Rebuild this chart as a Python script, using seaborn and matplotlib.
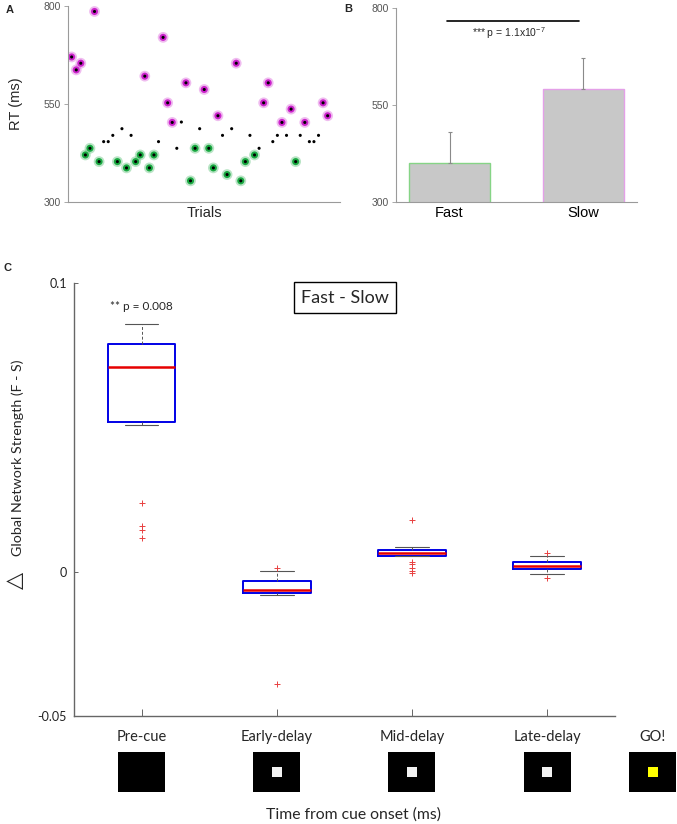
import numpy as np
import pandas as pd
import matplotlib
matplotlib.use("Agg")
import matplotlib.pyplot as plt
import seaborn as sns
from matplotlib.patches import Rectangle
from matplotlib.transforms import blended_transform_factory

# ---------------- data ----------------
# Panel A: RT per trial
trial_rt = [670, 637, 654, 420, 437, 786, 403, 454, 454, 470,
            403, 487, 387, 470, 403, 420, 621, 387, 420, 454,
            720, 553, 503, 437, 504, 604, 354, 437, 487, 587,
            437, 387, 520, 470, 370, 487, 654, 354, 403, 470,
            420, 437, 553, 604, 454, 470, 503, 470, 537, 403,
            470, 503, 454, 454, 470, 553, 520]
trial_group = list("SSSFFSFMMMFMFMFFSFFMSSSMMSFFMSFFSMFMSFFMFMSSMMSMSFMSMMMSS")

# Panel B: mean RT
bar_labels = ["Fast", "Slow"]
bar_means = [400, 592]
bar_err = [80, 80]
ticks_rt = [300, 550, 800]

# Panel C: box statistics
conditions = ["Pre-cue", "Early-delay", "Mid-delay", "Late-delay"]
box_whislo = [0.0507, -0.0080, 0.0056, -0.0008]
box_q1 = [0.0519, -0.0074, 0.0056, 0.0009]
box_med = [0.0708, -0.0063, 0.0065, 0.0020]
box_q3 = [0.0787, -0.0032, 0.0074, 0.0032]
box_whishi = [0.0858, 0.0003, 0.0084, 0.0053]
box_fliers = [[0.0238, 0.0158, 0.0144, 0.0116],
              [0.0014, -0.0390],
              [0.0178, 0.0032, 0.0026, 0.0013, 0.0003, -0.0006],
              [0.0066, -0.0023]]
ticks_c = [-0.05, 0, 0.1]
tick_labels_c = ["-0.05", "0", "0.1"]
stim_labels = ["Pre-cue", "Early-delay", "Mid-delay", "Late-delay", "GO!"]

# ---------------- style ----------------
sns.set_theme(style="white")
plt.rcParams['font.family'] = ['Liberation Sans', 'DejaVu Sans']
plt.rcParams['mathtext.default'] = 'regular'
CFONT = ['Lato', 'DejaVu Sans']

W, H = 677, 824
fig = plt.figure(figsize=(W / 100, H / 100), dpi=100)


def fx(px):
    return px / W


def fy(py):
    return 1 - py / H


axA = fig.add_axes([fx(68), fy(202), (340 - 68) / W, (202 - 6) / H])
axB = fig.add_axes([fx(396), fy(202), (637 - 396) / W, (202 - 8) / H])
axC = fig.add_axes([fx(74), fy(716), (614.7 - 74) / W, (716 - 283) / H])

# ---------------- Panel A ----------------
dfA = pd.DataFrame({"trial": np.arange(len(trial_rt)), "rt": trial_rt,
                    "group": trial_group})
col = dfA[dfA.group != "M"]
pal = {"S": "#cc22cc", "F": "#18a840"}
sns.scatterplot(data=col, x="trial", y="rt", hue="group", palette=pal, s=60,
                alpha=0.3, edgecolor="none", legend=False, ax=axA)
sns.scatterplot(data=col, x="trial", y="rt", hue="group", palette=pal, s=26,
                edgecolor="none", legend=False, ax=axA)
sns.scatterplot(data=dfA, x="trial", y="rt", color="black", s=5,
                edgecolor="none", legend=False, ax=axA)
axA.set_xlim(-0.8, 58.7)
axA.set_ylim(300, 800)
axA.set_yticks(ticks_rt)
axA.set_xticks([])
axA.set_ylabel("RT (ms)", fontsize=10.5)
axA.set_xlabel("Trials", fontsize=10.5)
axA.yaxis.set_label_coords(-0.165, 0.5)
axA.xaxis.set_label_coords(0.5, -0.058)
axA.xaxis.label.set_va("center")

# ---------------- Panel B ----------------
dfB = pd.DataFrame({"cond": bar_labels, "rt": bar_means})
sns.barplot(data=dfB, x="cond", y="rt", color="#c8c8c8", width=0.6,
            errorbar=None, saturation=1, ax=axB)
for p, ec in zip(axB.patches, ["#86d486", "#e4a0e8"]):
    p.set_edgecolor(ec)
    p.set_linewidth(1.0)
axB.errorbar(x=[0, 1], y=bar_means, yerr=[[0, 0], bar_err], fmt="none",
             ecolor="#8a8a8a", elinewidth=0.8, capsize=1.5, capthick=0.8)
axB.set_xlim(-0.4, 1.4)
axB.set_ylim(300, 800)
axB.set_yticks(ticks_rt)
axB.set_xlabel("")
axB.set_ylabel("")
axB.plot([-0.02, 0.97], [767, 767], color="black", lw=1.2, clip_on=False)
axB.text(0.44, 736, "*** p = 1.1x10$^{-7}$", ha="center", va="center",
         fontsize=7.5)
axB.tick_params(axis="x", length=0, labelsize=10.5, labelcolor="black", pad=3)

for ax in (axA, axB):
    sns.despine(ax=ax)
    for s in ("left", "bottom"):
        ax.spines[s].set_color("#9a9a9a")
        ax.spines[s].set_linewidth(0.8)
    ax.tick_params(axis="y", direction="out", length=3, width=0.6,
                   color="#9a9a9a", labelsize=7.5, labelcolor="#555555",
                   left=True, pad=2)

# ---------------- Panel C ----------------
stats = []
for i, c in enumerate(conditions):
    stats.append(dict(label=c, med=box_med[i], q1=box_q1[i], q3=box_q3[i],
                      whislo=box_whislo[i], whishi=box_whishi[i],
                      fliers=box_fliers[i]))
axC.bxp(stats, positions=range(len(conditions)), widths=0.5,
        capwidths=0.25, showfliers=True,
        boxprops=dict(color="#0000e6", linewidth=1.4),
        medianprops=dict(color="#e60000", linewidth=1.8),
        whiskerprops=dict(color="#555555", linewidth=0.7,
                          linestyle=(0, (3, 2))),
        capprops=dict(color="#555555", linewidth=0.8),
        flierprops=dict(marker="+", markeredgecolor="#e84040",
                        markersize=5, markeredgewidth=0.7,
                        linestyle="none"))
axC.set_xlim(-0.5, 3.5)
axC.set_ylim(-0.05, 0.1)
axC.set_yticks(ticks_c)
axC.set_yticklabels(tick_labels_c, fontfamily=CFONT)
axC.set_xticks(range(len(conditions)))
axC.set_xticklabels([])
sns.despine(ax=axC)
for s in ("left", "bottom"):
    axC.spines[s].set_color("#666666")
    axC.spines[s].set_linewidth(1.0)
axC.tick_params(axis="x", direction="in", length=5, width=0.7,
                color="#666666", bottom=True)
axC.tick_params(axis="y", direction="in", length=3, width=0.7,
                color="#666666", labelsize=9, labelcolor="#222222",
                left=True, pad=5)

axC.text(0, 0.092, "** p = 0.008", ha="center", va="center", fontsize=8.5,
         fontfamily=CFONT)
axC.text(0.501, 0.9665, "Fast - Slow", transform=axC.transAxes, ha="center",
         va="center", fontsize=13, fontfamily=CFONT, clip_on=False,
         bbox=dict(boxstyle="square,pad=0.4", fc="white", ec="black", lw=1))

# stimulus icons below the axis
trans = blended_transform_factory(axC.transData, fig.transFigure)
stim_x = [0, 1, 2, 3, 3.78]
sq_w = 47 / 135.1
in_w = 10 / 135.1
for i, lab in enumerate(stim_labels):
    x = stim_x[i]
    axC.text(x, fy(737), lab, transform=trans, ha="center", va="center",
             fontsize=10.5, fontfamily=CFONT, clip_on=False)
    fig.add_artist(Rectangle((x - sq_w / 2, fy(792)), sq_w, 40 / H,
                             transform=trans, color="black", lw=0))
    if i > 0:
        inner = "#ffff00" if lab == "GO!" else "#f2f2f2"
        fig.add_artist(Rectangle((x - in_w / 2, fy(777)), in_w, 10 / H,
                                 transform=trans, color=inner, lw=0))

fig.text(fx(353), fy(815), "Time from cue onset (ms)", ha="center",
         va="center", fontsize=11.3, fontfamily=CFONT)
fig.text(fx(18), fy(458), "Global Network Strength (F - S)", rotation=90,
         ha="center", va="center", fontsize=10.3, fontfamily=CFONT)
fig.text(fx(15), fy(580), "\u25b3", rotation=90, ha="center", va="center",
         fontsize=16, fontfamily=["DejaVu Sans"])

# panel letters
fig.text(fx(10), fy(10), "A", fontsize=8, fontweight="bold", ha="center",
         va="center")
fig.text(fx(348), fy(9), "B", fontsize=8, fontweight="bold", ha="center",
         va="center")
fig.text(fx(8), fy(268), "C", fontsize=8, fontweight="bold", ha="center",
         va="center")

fig.savefig("out.png", dpi=100)
